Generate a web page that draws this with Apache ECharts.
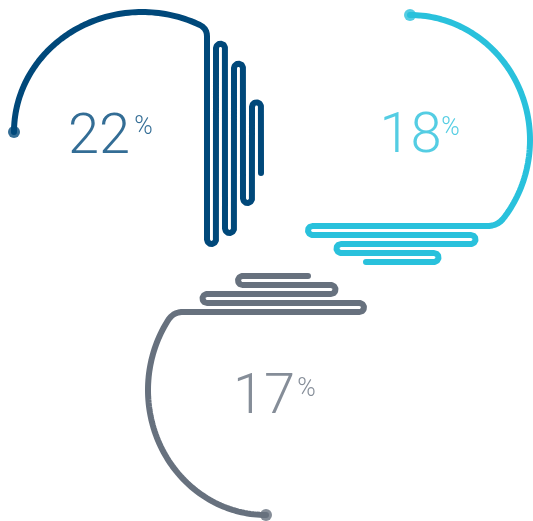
<!DOCTYPE html>
<html>
<head>
<meta charset="utf-8">
<script src="https://cdn.jsdelivr.net/npm/echarts@6/dist/echarts.min.js"></script>
<style>
html,body{margin:0;padding:0;background:#fff;}
#chart{width:533px;height:521px;}
</style>
</head>
<body>
<div id="chart"></div>
<script>
// ---- data ----
const values = [22, 18, 17];
const percentSign = '%';
const colors = ['#00487a', '#29c1dc', '#67717e'];

// ---- layout (decorative geometry, in pixel units of the hidden axes) ----
const ellipses = [
  {cx: 142, cy: 132, rx: 128, ry: 120, a0: 180, a1: 296.9},
  {cx: 410, cy: 140, rx: 120, ry: 125, a0: 270, a1: 398.6},
  {cx: 266, cy: 390, rx: 118, ry: 125, a0: 90,  a1: 214.06}
];
const folds = [
  {orient: 'v', c0: 207, step: 9,  d0: 1,  ends: [239.5, 48.2, 228.5, 68.2, 198.5, 106.8, 173]},
  {orient: 'h', c0: 226, step: 9,  d0: -1, ends: [312.5, 471, 341, 434, 366]},
  {orient: 'h', c0: 312, step: -9, d0: 1,  ends: [359.5, 207, 331, 242.5, 308]}
];
const numberPos = [[99, 139], [410.5, 138], [264, 399]];
const percentPos = [[143.5, 128], [450.5, 129], [306.5, 390]];

function buildPath(el, fd) {
  const pts = [];
  const rad = d => d * Math.PI / 180;
  for (let a = el.a0; a <= el.a1 + 1e-9; a += 1.5) {
    pts.push([el.cx + el.rx * Math.cos(rad(a)), el.cy + el.ry * Math.sin(rad(a))]);
  }
  const aE = rad(el.a1);
  const A = [el.cx + el.rx * Math.cos(aE), el.cy + el.ry * Math.sin(aE)];
  pts.push(A);
  let T = [-el.rx * Math.sin(aE), el.ry * Math.cos(aE)];
  const tl = Math.hypot(T[0], T[1]); T = [T[0] / tl, T[1] / tl];
  const pt = (cross, along) => fd.orient === 'v' ? [cross, along] : [along, cross];
  // intersection of tangent with the first straight line
  let t, C;
  if (fd.orient === 'v') { t = (fd.c0 - A[0]) / T[0]; } else { t = (fd.c0 - A[1]) / T[1]; }
  C = [A[0] + T[0] * t, A[1] + T[1] * t];
  const dvec = fd.orient === 'v' ? [0, fd.d0] : [fd.d0, 0];
  const B = [C[0] + dvec[0] * Math.abs(t), C[1] + dvec[1] * Math.abs(t)];
  for (let i = 1; i <= 12; i++) {
    const s = i / 12;
    pts.push([
      (1 - s) * (1 - s) * A[0] + 2 * (1 - s) * s * C[0] + s * s * B[0],
      (1 - s) * (1 - s) * A[1] + 2 * (1 - s) * s * C[1] + s * s * B[1]
    ]);
  }
  let d = fd.d0;
  const r = Math.abs(fd.step) / 2;
  for (let i = 0; i < fd.ends.length; i++) {
    const cross = fd.c0 + fd.step * i;
    const e = fd.ends[i];
    pts.push(pt(cross, e));
    if (i < fd.ends.length - 1) {
      const P1 = pt(cross, e), P2 = pt(cross + fd.step, e);
      const M = [(P1[0] + P2[0]) / 2, (P1[1] + P2[1]) / 2];
      const U = [(P1[0] - M[0]) / r, (P1[1] - M[1]) / r];
      const D = fd.orient === 'v' ? [0, d] : [d, 0];
      for (let k = 1; k < 16; k++) {
        const th = Math.PI * k / 16;
        pts.push([M[0] + r * (Math.cos(th) * U[0] + Math.sin(th) * D[0]),
                  M[1] + r * (Math.cos(th) * U[1] + Math.sin(th) * D[1])]);
      }
      pts.push(P2);
      d = -d;
    }
  }
  return pts;
}

const series = [];
values.forEach((v, i) => {
  const path = buildPath(ellipses[i], folds[i]);
  series.push({
    type: 'line', data: path, showSymbol: false, symbol: 'none', silent: true,
    lineStyle: {color: colors[i], width: 6, cap: 'round', join: 'round'}
  });
  series.push({
    type: 'scatter', data: [path[0]], symbolSize: 12, silent: true,
    itemStyle: {color: colors[i]}
  });
  series.push({
    type: 'scatter', symbolSize: 1, silent: true,
    itemStyle: {color: 'rgba(0,0,0,0)'},
    data: [
      {value: numberPos[i], label: {show: true, position: 'inside', formatter: String(v),
        color: colors[i], fontFamily: 'Roboto', fontWeight: 300, fontSize: 56, align: 'center', verticalAlign: 'middle'}},
      {value: percentPos[i], label: {show: true, position: 'inside', formatter: percentSign,
        color: colors[i], fontFamily: 'Roboto', fontWeight: 300, fontSize: 25, align: 'center', verticalAlign: 'middle'}}
    ]
  });
});

const chart = echarts.init(document.getElementById('chart'), null, {renderer: 'canvas'});
chart.setOption({
  animation: false,
  backgroundColor: '#fff',
  grid: {left: 0, right: 0, top: 0, bottom: 0},
  xAxis: {type: 'value', min: 0, max: 533, show: false},
  yAxis: {type: 'value', min: 0, max: 521, inverse: true, show: false},
  series: series
});
</script>
</body>
</html>
